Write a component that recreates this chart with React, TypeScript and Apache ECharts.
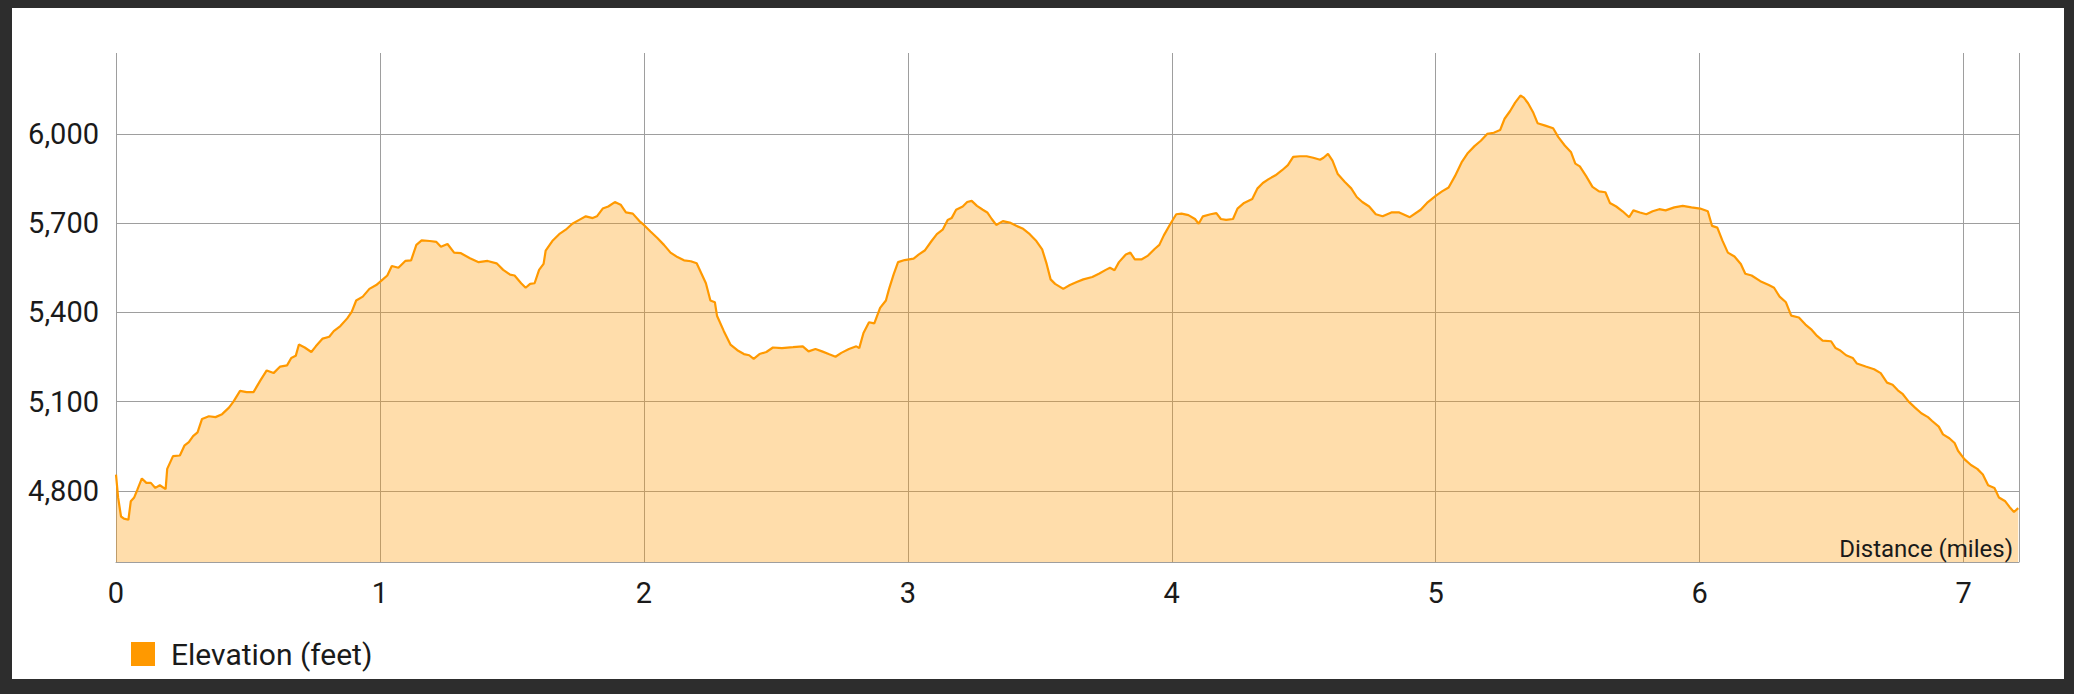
import React, { useEffect, useRef } from "react";
import * as echarts from "echarts";

// Distance along the trail (miles)
const miles = [
  0.0, 0.008, 0.019, 0.03, 0.047, 0.056, 0.069, 0.081, 0.098, 0.115, 0.132, 0.149, 0.166, 0.188, 0.194,
  0.216, 0.242, 0.259, 0.276, 0.292, 0.309, 0.326, 0.352, 0.377, 0.402, 0.428, 0.445, 0.47, 0.495, 0.521,
  0.546, 0.571, 0.597, 0.622, 0.648, 0.664, 0.681, 0.693, 0.715, 0.74, 0.757, 0.783, 0.808, 0.825, 0.85,
  0.876, 0.893, 0.91, 0.935, 0.96, 0.986, 1.011, 1.028, 1.045, 1.07, 1.096, 1.118, 1.138, 1.158, 1.189,
  1.214, 1.231, 1.256, 1.281, 1.307, 1.341, 1.374, 1.408, 1.442, 1.467, 1.493, 1.51, 1.535, 1.552, 1.569,
  1.586, 1.603, 1.62, 1.628, 1.653, 1.679, 1.704, 1.729, 1.755, 1.78, 1.806, 1.822, 1.844, 1.865, 1.89,
  1.912, 1.932, 1.958, 1.983, 2.0, 2.025, 2.051, 2.076, 2.101, 2.127, 2.152, 2.178, 2.2, 2.235, 2.252,
  2.269, 2.277, 2.303, 2.328, 2.354, 2.379, 2.399, 2.416, 2.438, 2.464, 2.489, 2.523, 2.565, 2.602, 2.624,
  2.65, 2.675, 2.7, 2.726, 2.748, 2.777, 2.805, 2.816, 2.832, 2.853, 2.873, 2.895, 2.917, 2.929, 2.946,
  2.963, 2.988, 3.022, 3.042, 3.064, 3.09, 3.11, 3.132, 3.151, 3.166, 3.183, 3.208, 3.225, 3.242, 3.262,
  3.284, 3.301, 3.318, 3.335, 3.36, 3.386, 3.411, 3.437, 3.462, 3.487, 3.509, 3.526, 3.541, 3.558, 3.589,
  3.614, 3.64, 3.665, 3.699, 3.724, 3.75, 3.766, 3.783, 3.8, 3.826, 3.843, 3.86, 3.885, 3.91, 3.936,
  3.953, 3.97, 3.995, 4.017, 4.037, 4.063, 4.088, 4.102, 4.118, 4.147, 4.169, 4.186, 4.206, 4.232, 4.249,
  4.274, 4.305, 4.325, 4.345, 4.367, 4.393, 4.418, 4.44, 4.46, 4.486, 4.511, 4.536, 4.562, 4.575, 4.592,
  4.609, 4.629, 4.655, 4.68, 4.701, 4.722, 4.748, 4.773, 4.799, 4.832, 4.862, 4.902, 4.943, 4.967, 5.0,
  5.024, 5.049, 5.073, 5.098, 5.122, 5.147, 5.171, 5.195, 5.22, 5.244, 5.261, 5.282, 5.301, 5.321, 5.334,
  5.35, 5.37, 5.386, 5.415, 5.445, 5.464, 5.489, 5.513, 5.529, 5.546, 5.57, 5.594, 5.619, 5.643, 5.66,
  5.684, 5.708, 5.733, 5.749, 5.774, 5.798, 5.822, 5.847, 5.871, 5.904, 5.936, 5.969, 6.002, 6.031, 6.047,
  6.067, 6.086, 6.107, 6.132, 6.156, 6.173, 6.197, 6.23, 6.262, 6.282, 6.303, 6.327, 6.347, 6.376, 6.401,
  6.425, 6.445, 6.466, 6.498, 6.515, 6.531, 6.555, 6.58, 6.596, 6.629, 6.661, 6.686, 6.71, 6.731, 6.751,
  6.77, 6.792, 6.816, 6.84, 6.865, 6.881, 6.906, 6.922, 6.946, 6.966, 6.979, 7.003, 7.028, 7.052, 7.073,
  7.093, 7.117, 7.134, 7.158, 7.174, 7.191, 7.207,
];

// Elevation (feet)
const elevation = [
  4855, 4778, 4714, 4707, 4703, 4765, 4778, 4804, 4842, 4827, 4827, 4810, 4819, 4806, 4874,
  4917, 4919, 4952, 4964, 4984, 4997, 5042, 5051, 5048, 5058, 5080, 5100, 5136, 5132, 5132,
  5170, 5205, 5196, 5218, 5222, 5247, 5254, 5292, 5282, 5267, 5286, 5312, 5318, 5337, 5354,
  5380, 5402, 5440, 5453, 5479, 5492, 5511, 5524, 5556, 5550, 5573, 5575, 5627, 5642, 5640,
  5637, 5621, 5630, 5601, 5599, 5582, 5569, 5573, 5565, 5543, 5527, 5524, 5498, 5483, 5496,
  5498, 5543, 5563, 5608, 5640, 5663, 5678, 5698, 5711, 5723, 5717, 5723, 5749, 5756, 5771,
  5762, 5736, 5732, 5707, 5694, 5672, 5650, 5627, 5601, 5586, 5575, 5572, 5565, 5498, 5440,
  5434, 5389, 5337, 5292, 5273, 5260, 5256, 5244, 5260, 5267, 5282, 5280, 5283, 5286, 5269,
  5277, 5269, 5260, 5251, 5264, 5277, 5286, 5280, 5331, 5367, 5363, 5415, 5440, 5479, 5527,
  5569, 5576, 5581, 5595, 5608, 5640, 5663, 5678, 5711, 5717, 5745, 5756, 5771, 5775, 5758,
  5745, 5736, 5714, 5694, 5707, 5702, 5691, 5681, 5663, 5640, 5612, 5563, 5511, 5496, 5479,
  5492, 5502, 5511, 5519, 5530, 5543, 5550, 5542, 5569, 5595, 5601, 5578, 5578, 5591, 5614,
  5627, 5659, 5698, 5730, 5732, 5727, 5714, 5698, 5723, 5730, 5734, 5714, 5711, 5714, 5749,
  5768, 5781, 5817, 5835, 5848, 5861, 5878, 5895, 5923, 5925, 5925, 5920, 5913, 5920, 5933,
  5910, 5865, 5839, 5817, 5788, 5771, 5756, 5730, 5723, 5736, 5736, 5720, 5745, 5768, 5792,
  5807, 5820, 5858, 5904, 5936, 5959, 5977, 6000, 6004, 6013, 6051, 6077, 6105, 6129, 6122,
  6103, 6071, 6036, 6028, 6019, 5990, 5961, 5938, 5900, 5891, 5858, 5822, 5807, 5804, 5768,
  5756, 5740, 5720, 5743, 5736, 5730, 5740, 5747, 5743, 5753, 5758, 5753, 5749, 5740, 5691,
  5685, 5642, 5601, 5588, 5563, 5530, 5524, 5505, 5492, 5483, 5453, 5434, 5389, 5383, 5359,
  5341, 5321, 5305, 5303, 5280, 5273, 5256, 5247, 5228, 5218, 5209, 5196, 5164, 5157, 5138,
  5125, 5100, 5080, 5061, 5048, 5035, 5016, 4990, 4977, 4961, 4935, 4907, 4887, 4874, 4855,
  4819, 4810, 4778, 4765, 4746, 4729, 4742,
];

const xTicks = [0, 1, 2, 3, 4, 5, 6, 7];
const yTicks = [4800, 5100, 5400, 5700, 6000];
const X_MIN = 0;
const X_MAX = 7.21;
const Y_MIN = 4561;
const Y_MAX = 6272;
const seriesName = "Elevation (feet)";
const xAxisTitle = "Distance (miles)";

const fmt = (v: number) => String(v).replace(/\B(?=(\d{3})+(?!\d))/g, ",");

export default function App() {
  const ref = useRef<HTMLDivElement>(null);

  useEffect(() => {
    if (!ref.current) return;
    const chart = echarts.init(ref.current, null, { renderer: "svg" });
    const data = miles.map((m, i) => [m, elevation[i]]);
    const gridColor = "#9e9e9e";
    const textColor = "#1a1a1a";
    chart.setOption({
      animation: false,
      textStyle: { fontFamily: "Roboto" },
      grid: {
        left: 104,
        top: 45,
        width: 1903,
        height: 509,
        containLabel: false,
        outerBoundsMode: "none",
      },
      legend: {
        show: true,
        left: 119,
        top: 631,
        padding: 0,
        icon: "rect",
        itemWidth: 24,
        itemHeight: 24,
        data: [seriesName],
        textStyle: {
          fontSize: 30,
          color: textColor,
          fontFamily: "Roboto",
          padding: [0, 0, 0, 11],
        },
      },
      xAxis: {
        type: "value",
        min: X_MIN,
        max: X_MAX,
        axisLine: { show: true, lineStyle: { color: gridColor, width: 1 } },
        axisTick: { show: false, customValues: [...xTicks, X_MAX] },
        axisLabel: {
          customValues: xTicks,
          fontSize: 29,
          color: textColor,
          fontFamily: "Roboto",
          margin: 16,
        },
        splitLine: { show: true, lineStyle: { color: gridColor, width: 1 } },
      },
      yAxis: {
        type: "value",
        min: Y_MIN,
        max: Y_MAX,
        axisLine: { show: false },
        axisTick: { show: false, customValues: yTicks },
        axisLabel: {
          customValues: yTicks,
          fontSize: 29,
          color: textColor,
          fontFamily: "Roboto",
          margin: 17,
          formatter: (v: number) => fmt(v),
        },
        splitLine: { show: true, lineStyle: { color: gridColor, width: 1 } },
      },
      series: [
        {
          name: seriesName,
          type: "line",
          data,
          showSymbol: false,
          symbol: "none",
          lineStyle: { color: "#ff9900", width: 2.2 },
          itemStyle: { color: "#ff9900" },
          areaStyle: { color: "#ff9900", opacity: 0.33 },
        },
      ],
      graphic: [
        {
          type: "text",
          x: 2001,
          y: 541,
          z: 100,
          style: {
            text: xAxisTitle,
            align: "right",
            verticalAlign: "middle",
            fontSize: 24,
            fontFamily: "Roboto",
            fill: textColor,
          },
        },
      ],
    });
    return () => chart.dispose();
  }, []);

  return (
    <div
      style={{
        position: "fixed",
        left: 0,
        top: 0,
        width: 2074,
        height: 694,
        background: "#2d2d2d",
      }}
    >
      <div
        style={{
          position: "absolute",
          left: 12,
          top: 8,
          width: 2052,
          height: 671,
          background: "#ffffff",
        }}
      >
        <div ref={ref} style={{ width: 2052, height: 671 }} />
      </div>
    </div>
  );
}
